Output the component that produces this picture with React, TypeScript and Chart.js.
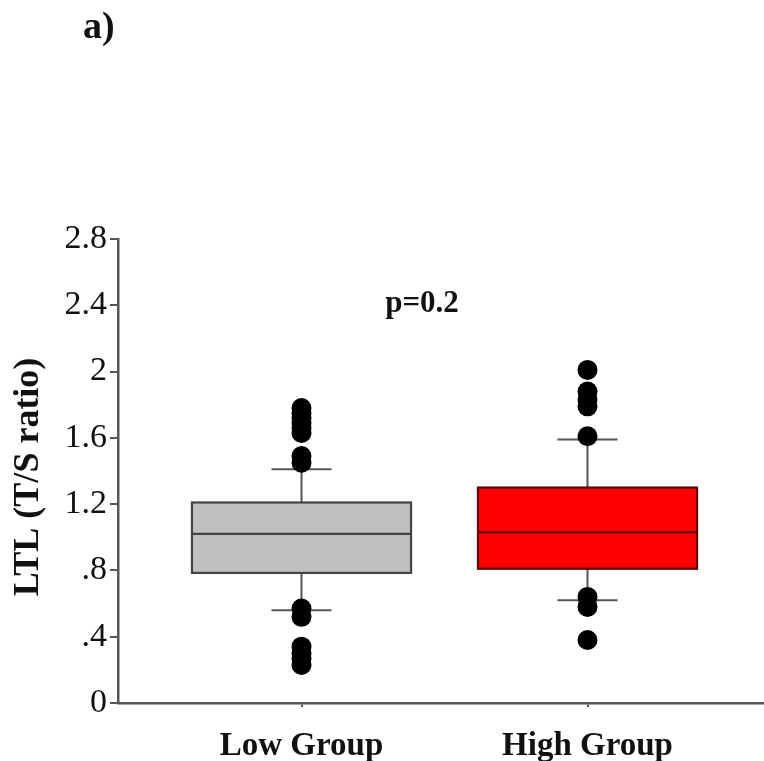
import React, { useEffect, useRef } from "react";
import { Chart, registerables } from "chart.js";

Chart.register(...registerables);

const groups = ["Low Group", "High Group"];
const groupX = [1, 2];
const whiskerLow = [0.56, 0.62];
const q1 = [0.785, 0.81];
const medians = [1.02, 1.03];
const q3 = [1.21, 1.3];
const whiskerHigh = [1.41, 1.59];
const lowGroupOutliers = [1.78, 1.75, 1.72, 1.69, 1.66, 1.63, 1.49, 1.45, 0.57, 0.52, 0.34, 0.3, 0.27, 0.23];
const highGroupOutliers = [2.01, 1.88, 1.83, 1.79, 1.61, 0.64, 0.58, 0.38];
const boxFill = ["#c0c0c0", "#ff0000"];
const boxStroke = ["#444444", "#5a0000"];
const medianStroke = ["#444444", "#6a0000"];
const yTickValues = [0, 0.4, 0.8, 1.2, 1.6, 2, 2.4, 2.8];
const yTickLabels = ["0", ".4", ".8", "1.2", "1.6", "2", "2.4", "2.8"];
const yTitle = "LTL (T/S ratio)";
const panelLabel = "a)";
const pLabel = "p=0.2";

const FONT = "'Liberation Serif', 'Times New Roman', serif";

const boxPlugin = {
  id: "boxes",
  beforeDatasetsDraw(chart: any) {
    const { ctx, scales } = chart;
    const xs = scales.x;
    const ys = scales.y;
    const halfBox = 0.383;
    const halfCap = 0.105;
    ctx.save();
    groupX.forEach((gx, i) => {
      const cx = xs.getPixelForValue(gx);
      const l = xs.getPixelForValue(gx - halfBox);
      const r = xs.getPixelForValue(gx + halfBox);
      const cl = xs.getPixelForValue(gx - halfCap);
      const cr = xs.getPixelForValue(gx + halfCap);
      const yq1 = ys.getPixelForValue(q1[i]);
      const yq3 = ys.getPixelForValue(q3[i]);
      const ymed = ys.getPixelForValue(medians[i]);
      const ywl = ys.getPixelForValue(whiskerLow[i]);
      const ywh = ys.getPixelForValue(whiskerHigh[i]);
      ctx.strokeStyle = "#555555";
      ctx.lineWidth = 2;
      ctx.beginPath();
      ctx.moveTo(cx, yq3);
      ctx.lineTo(cx, ywh);
      ctx.moveTo(cl, ywh);
      ctx.lineTo(cr, ywh);
      ctx.moveTo(cx, yq1);
      ctx.lineTo(cx, ywl);
      ctx.moveTo(cl, ywl);
      ctx.lineTo(cr, ywl);
      ctx.stroke();
      ctx.fillStyle = boxFill[i];
      ctx.fillRect(l, yq3, r - l, yq1 - yq3);
      ctx.strokeStyle = boxStroke[i];
      ctx.lineWidth = 2.2;
      ctx.strokeRect(l, yq3, r - l, yq1 - yq3);
      ctx.strokeStyle = medianStroke[i];
      ctx.lineWidth = 2.2;
      ctx.beginPath();
      ctx.moveTo(l, ymed);
      ctx.lineTo(r, ymed);
      ctx.stroke();
    });
    ctx.restore();
  },
  afterDraw(chart: any) {
    const { ctx } = chart;
    ctx.save();
    ctx.fillStyle = "#111";
    ctx.textBaseline = "alphabetic";
    ctx.textAlign = "left";
    ctx.font = `bold 38px ${FONT}`;
    ctx.fillText(panelLabel, 83, 38);
    ctx.textAlign = "center";
    ctx.font = `bold 31px ${FONT}`;
    ctx.fillText(pLabel, 422, 312);
    ctx.translate(29, 477);
    ctx.rotate(-Math.PI / 2);
    ctx.textBaseline = "middle";
    ctx.font = `bold 36px ${FONT}`;
    ctx.fillText(yTitle, 0, 0);
    ctx.restore();
  },
};

export default function App() {
  const ref = useRef<HTMLCanvasElement | null>(null);
  useEffect(() => {
    if (!ref.current) return;
    const chart = new Chart(ref.current, {
      type: "scatter",
      data: {
        datasets: [
          {
            label: groups[0],
            data: lowGroupOutliers.map((v) => ({ x: groupX[0], y: v })),
            backgroundColor: "#000",
            borderWidth: 0,
            pointRadius: 10,
          },
          {
            label: groups[1],
            data: highGroupOutliers.map((v) => ({ x: groupX[1], y: v })),
            backgroundColor: "#000",
            borderWidth: 0,
            pointRadius: 10,
          },
        ],
      },
      options: {
        responsive: false,
        animation: false,
        layout: { autoPadding: false, padding: { top: 239, left: 0, right: 0, bottom: 0 } },
        plugins: {
          legend: { display: false },
          tooltip: { enabled: false },
        },
        scales: {
          x: {
            type: "linear",
            min: 0.3584,
            max: 2.6171,
            afterBuildTicks: (scale: any) => {
              scale.ticks = groupX.map((v) => ({ value: v }));
            },
            afterFit: (scale: any) => {
              scale.height = 58;
              scale.paddingLeft = 0;
              scale.paddingRight = 0;
            },
            grid: {
              drawOnChartArea: false,
              drawTicks: true,
              tickLength: 4,
              color: "#555",
              lineWidth: 2,
            },
            border: { display: true, color: "#555", width: 2.5 },
            ticks: {
              autoSkip: false,
              maxRotation: 0,
              padding: 20,
              color: "#111",
              font: { family: FONT, size: 33, weight: "bold" },
              callback: (v: any) => {
                const idx = groupX.indexOf(Number(v));
                return idx >= 0 ? groups[idx] : "";
              },
            },
          },
          y: {
            type: "linear",
            min: 0,
            max: 2.8,
            afterBuildTicks: (scale: any) => {
              scale.ticks = yTickValues.map((v) => ({ value: v }));
            },
            afterFit: (scale: any) => {
              scale.width = 118;
              scale.paddingTop = 0;
              scale.paddingBottom = 0;
            },
            grid: {
              drawOnChartArea: false,
              drawTicks: true,
              tickLength: 8,
              color: "#555",
              lineWidth: 2,
            },
            border: { display: true, color: "#555", width: 2.5 },
            ticks: {
              padding: 3,
              color: "#111",
              font: { family: FONT, size: 34 },
              callback: (v: any) => {
                const idx = yTickValues.findIndex((t) => Math.abs(t - Number(v)) < 1e-6);
                return idx >= 0 ? yTickLabels[idx] : "";
              },
            },
          },
        },
      },
      plugins: [boxPlugin],
    } as any);
    return () => chart.destroy();
  }, []);
  return (
    <div style={{ position: "absolute", left: 0, top: 0, width: 764, height: 761, background: "#fff" }}>
      <canvas ref={ref} width={764} height={761} style={{ display: "block" }} />
    </div>
  );
}
